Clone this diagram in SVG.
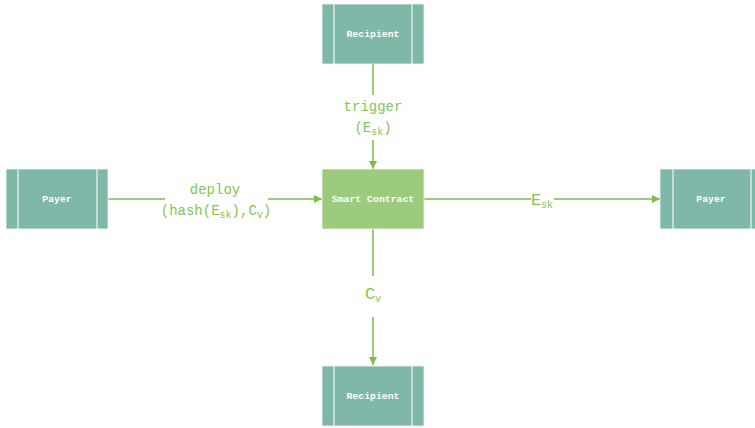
<svg xmlns="http://www.w3.org/2000/svg" width="755" height="428" viewBox="0 0 755 428">
<style>
.node{fill:#7fb8a8;stroke:#f2f7f4;stroke-width:0.8}
.div{stroke:#eef6f2;stroke-width:1.2}
.sc{fill:#9ccb7e;stroke:#f2f7f4;stroke-width:0.8}
.nt{font-family:"Liberation Mono",monospace;font-size:9.8px;fill:#ffffff;text-anchor:middle;font-weight:bold}
.ln{stroke:#7cbb4c;stroke-width:1.5;fill:none}
.lb{font-family:"Liberation Mono",monospace;font-size:14px;fill:#84c455;text-anchor:middle}
.big{font-size:17px}
.sub{font-size:10px}
</style>
<defs>
<marker id="ah" viewBox="0 0 10 10" refX="10" refY="5" markerWidth="8" markerHeight="8" markerUnits="userSpaceOnUse" orient="auto">
<path d="M0,0 L10,5 L0,10 z" fill="#7cbb4c"/>
</marker>
</defs>
<rect width="755" height="428" fill="#ffffff"/>
<g id="connectors">
<line class="ln" x1="108" y1="199" x2="165" y2="199"/>
<line class="ln" x1="268" y1="199" x2="322" y2="199" marker-end="url(#ah)"/>
<line class="ln" x1="373" y1="64" x2="373" y2="95"/>
<line class="ln" x1="373" y1="140" x2="373" y2="169" marker-end="url(#ah)"/>
<line class="ln" x1="424" y1="199" x2="531" y2="199"/>
<line class="ln" x1="554" y1="199" x2="660" y2="199" marker-end="url(#ah)"/>
<line class="ln" x1="373" y1="229" x2="373" y2="276"/>
<line class="ln" x1="373" y1="317" x2="373" y2="365" marker-end="url(#ah)"/>
<text class="lb" x="215" y="194">deploy</text>
<text class="lb" x="216" y="215">(hash(E<tspan class="sub" dy="3">sk</tspan><tspan dy="-3">),C</tspan><tspan class="sub" dy="3">v</tspan><tspan dy="-3">)</tspan></text>
<text class="lb" x="373" y="111">trigger</text>
<text class="lb" x="373" y="132">(E<tspan class="sub" dy="3">sk</tspan><tspan dy="-3">)</tspan></text>
<text class="lb big" x="542" y="205">E<tspan class="sub" dy="3">sk</tspan></text>
<text class="lb big" x="373" y="299">C<tspan class="sub" dy="3">v</tspan></text>
</g>
<g id="recipient-top">
<rect class="node" x="322" y="4" width="102" height="60"/>
<line class="div" x1="334" y1="4" x2="334" y2="64"/>
<line class="div" x1="412" y1="4" x2="412" y2="64"/>
<text class="nt" x="373" y="37">Recipient</text>
</g>
<g id="payer-left">
<rect class="node" x="6" y="169" width="102" height="60"/>
<line class="div" x1="18" y1="169" x2="18" y2="229"/>
<line class="div" x1="97" y1="169" x2="97" y2="229"/>
<text class="nt" x="57" y="202">Payer</text>
</g>
<g id="smart-contract">
<rect class="sc" x="322" y="169" width="102" height="60"/>
<text class="nt" x="373" y="202">Smart Contract</text>
</g>
<g id="payer-right">
<rect class="node" x="660" y="169" width="102" height="60"/>
<line class="div" x1="673" y1="169" x2="673" y2="229"/>
<line class="div" x1="751" y1="169" x2="751" y2="229"/>
<text class="nt" x="711" y="202">Payer</text>
</g>
<g id="recipient-bottom">
<rect class="node" x="322" y="366" width="102" height="60"/>
<line class="div" x1="334" y1="366" x2="334" y2="426"/>
<line class="div" x1="412" y1="366" x2="412" y2="426"/>
<text class="nt" x="373" y="399">Recipient</text>
</g>
</svg>
